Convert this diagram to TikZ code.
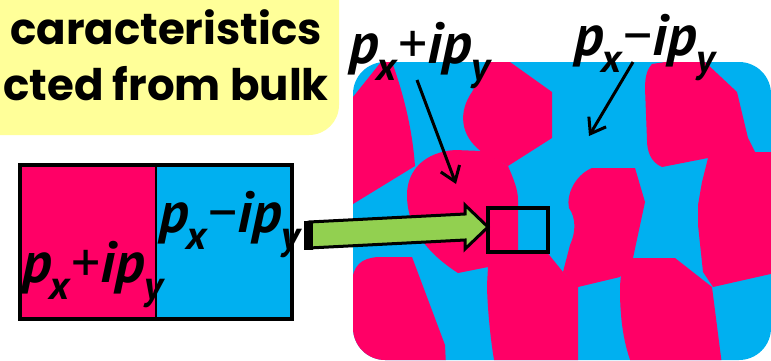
\documentclass[tikz,border=0pt]{standalone}
\usepackage{fontspec}
\usepackage{graphicx}
\usetikzlibrary{arrows.meta}
\newfontfamily\titlefont{Poppins}
\newfontfamily\lblfont{PT Sans}
\definecolor{pinkc}{HTML}{FF0066}
\definecolor{cyanc}{HTML}{00B0F0}
\definecolor{greenc}{HTML}{92D050}
\definecolor{yellowc}{HTML}{FFFF99}
\newcommand\sbs[1]{\raisebox{-0.3em}{\scalebox{0.7}{#1}}}
\newcommand\pxy[1]{{\lblfont\bfseries\itshape p\kern-0.03em\sbs{x}\kern0.02em{\mdseries\upshape #1}\kern0.01em ip\kern-0.02em\sbs{y}}}
\tikzset{
  blob/.style={fill=pinkc},
  thinarrow/.style={line width=3pt, -{Straight Barb[length=14pt,width=20pt,line width=3pt]}},
  lbl/.style={anchor=base west, inner sep=0pt, font=\fontsize{58}{58}\selectfont},
  ttl/.style={inner sep=0pt, font=\titlefont\bfseries\fontsize{43.5}{43.5}\selectfont},
}
\begin{document}
\begin{tikzpicture}[x=1pt,y=-1pt]
\useasboundingbox (0,0) rectangle (771,360);
\begin{scope}
\clip (0,0) rectangle (771,360);
% yellow title box
\fill[yellowc, rounded corners=30pt] (-60,-60) rectangle (339,135);
\node[ttl, anchor=base west] (t1) at (10,44) {caracteristics};
\node[ttl, anchor=base east] (t2) at (329,100) {acted from bulk};
% big domain picture
\fill[cyanc, rounded corners=32pt] (353,62) rectangle (771,360);
\begin{scope}
\clip[rounded corners=32pt] (353,62) rectangle (771,360);
% A
\fill[blob] (353,97) -- (381,62) -- (392,62) .. controls (402,90) and (412,125) .. (415,166) -- (353,204) -- cycle;
% B
\fill[blob] (488,62) -- (510,62) -- (552,92) -- (552,138) -- (508,166) -- (482,152) .. controls (460,136) and (458,112) .. (472,92) -- cycle;
% C + F
\fill[blob] (482,151) -- (508,166) .. controls (514,180) and (518,190) .. (518,200) -- (518,252) -- (546,251) -- (563,272) -- (578,286) -- (578,365) -- (495,365) .. controls (490,340) and (487,300) .. (487,285) -- (488,267) -- (458,273) .. controls (430,255) and (407,230) .. (407,195) .. controls (407,170) and (425,152) .. (455,150) -- cycle;
% G
\fill[blob] (592,168) -- (635,168) -- (645,202) -- (633,258) -- (620,277) -- (578,287) -- (563,272) -- (570,245) .. controls (576,232) and (576,218) .. (569,208) .. controls (566,195) and (575,175) .. (592,168) -- cycle;
% H
\fill[blob] (633,258) -- (675,258) -- (712,287) -- (722,365) -- (632,365) .. controls (624,345) and (620,320) .. (620,290) .. controls (620,268) and (626,258) .. (633,258) -- cycle;
% I + J
\fill[blob] (652,64) -- (665,62) -- (705,62) -- (737,92) -- (748,138) -- (755,152) -- (775,152) -- (775,273) -- (713,287) -- (703,272) -- (698,225) -- (698,205) -- (702,182) -- (708,158) -- (662,167) .. controls (650,162) and (647,150) .. (647,140) -- (645,88) .. controls (645,75) and (648,68) .. (652,64) -- cycle;
% E
\fill[blob] (378,257) -- (412,257) -- (445,345) -- (446,365) -- (370,365) .. controls (355,350) and (352,335) .. (352,320) -- (352,285) .. controls (352,265) and (362,258) .. (378,257) -- cycle;
\end{scope}
\end{scope}
% left box
\fill[pinkc] (20,165) rectangle (156,319);
\fill[cyanc] (156,165) rectangle (292,319);
\draw[line width=2.5pt] (156,165) -- (156,319);
\draw[line width=3.5pt] (20,165) rectangle (292,319);
\node[lbl] (lp) at (22,282) {\pxy{+}};
\node[lbl] (lm) at (159,232) {\pxy{−}};
% top labels
\node[lbl] (tp) at (349,63) {\pxy{+}};
\node[lbl] (tm) at (574,55) {\pxy{−}};
% thin arrows
\coordinate (a1s) at (417,80);
\coordinate (a1e) at (456,184);
\coordinate (a2s) at (633,62);
\coordinate (a2e) at (589,136);
\draw[thinarrow] (a1s) -- (a1e);
\draw[thinarrow] (a2s) -- (a2e);
% zoom square
\draw[line width=3.5pt] (488,208) rectangle (548,252);
% green arrow
\filldraw[fill=greenc, line width=3pt, line join=miter] (309,222) -- (465,214) -- (465,205) -- (488,227) -- (465,249) -- (465,240) -- (309,248) -- cycle;
\fill (304,221) rectangle (313,250);
\end{tikzpicture}
\end{document}
